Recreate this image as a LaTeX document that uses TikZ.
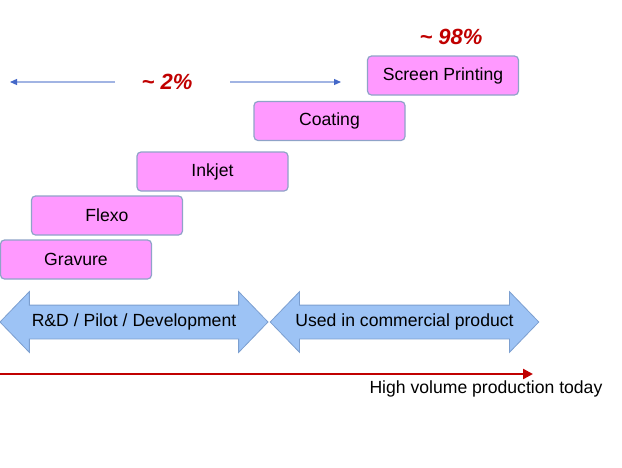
\documentclass[tikz,border=0pt]{standalone}
\usepackage{fontspec}
\setmainfont{Liberation Sans}
\usetikzlibrary{arrows.meta,positioning,shapes.arrows}
\definecolor{boxpink}{HTML}{FF99FF}
\definecolor{boxedge}{HTML}{8FA3C8}
\definecolor{arrblue}{HTML}{9DC3F5}
\definecolor{arredge}{HTML}{7C9FD0}
\definecolor{thinblue}{HTML}{4468C8}
\definecolor{darkred}{HTML}{C00000}

\begin{document}
\begin{tikzpicture}[
    x=1pt, y=-1pt,
    procbox/.style={draw=boxedge, line width=1.2pt, fill=boxpink, rounded corners=4pt,
      minimum width=151pt, minimum height=39pt, inner sep=0pt,
      font=\fontsize{17.6}{21}\selectfont},
    phase/.style={double arrow, draw=arredge, line width=0.8pt, fill=arrblue,
      minimum height=268pt, minimum width=60pt, double arrow head extend=13.5pt,
      double arrow tip angle=92, text height=12pt, text depth=4pt, inner sep=8.5pt,
      font=\fontsize{17.6}{21}\selectfont},
    share/.style={font=\fontsize{22}{26}\selectfont\bfseries\itshape, text=darkred},
    thin/.style={-{Triangle[length=7pt,width=6pt,color=thinblue]}, thinblue!50,
      line width=1.2pt},
  ]
  \useasboundingbox (0,0) rectangle (622,467);

  % Process steps
  \foreach \name/\x/\y/\txt in {grav/76/259.5/Gravure, flexo/107/215.5/Flexo,
      inkjet/212.5/171.5/Inkjet, coat/329.5/121/Coating,
      screen/443/75.5/Screen Printing} {
    \node[procbox] (\name) at (\x,\y) {\txt};
  }

  % Market shares
  \node[share] (small) at (167,82) {\textasciitilde\ 2\%};
  \node[share] (large) at (451,37) {\textasciitilde\ 98\%};
  \coordinate (lfrom) at (115,82);
  \coordinate (lto) at (10,82);
  \coordinate (rfrom) at (230,82);
  \coordinate (rto) at (341,82);
  \draw[thin] (lfrom) -- (lto);
  \draw[thin] (rfrom) -- (rto);

  % Phases
  \node[phase] (rnd) at (134,322) {R\&D / Pilot / Development};
  \node[phase] (used) at (404.5,322) {Used in commercial product};

  % Volume axis
  \coordinate (vstart) at (0,374);
  \coordinate (vend) at (533,374);
  \draw[-{Triangle[length=10pt,width=10pt]}, darkred, line width=2.4pt] (vstart) -- (vend);
  \node[font=\fontsize{17.6}{21}\selectfont, anchor=west] (today) at (366,389)
    {High volume production today};

\end{tikzpicture}
\end{document}
